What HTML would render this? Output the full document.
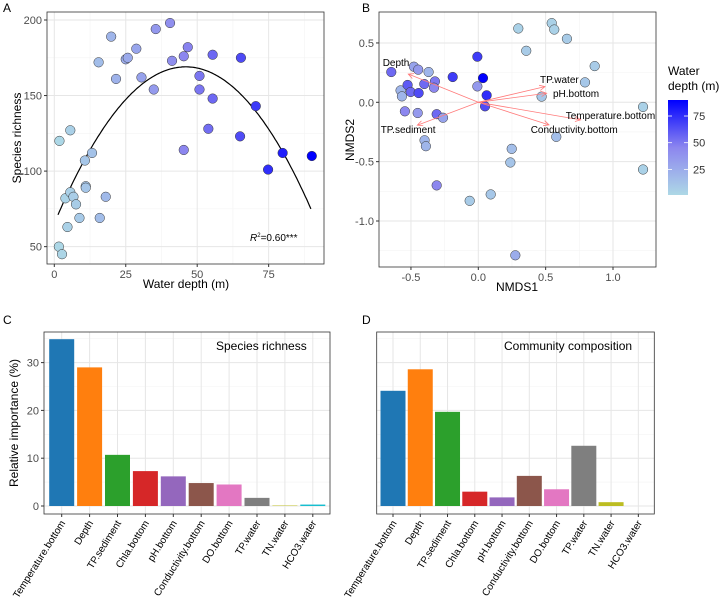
<!DOCTYPE html>
<html><head><meta charset="utf-8"><style>
body{margin:0;background:#fff}
svg{display:block;font-family:"Liberation Sans",Arial,sans-serif}
</style></head><body>
<svg id="fig" width="720" height="597" viewBox="0 0 720 597"></svg>
<script>
// ---- Panel A data ----
const depthA=[1.8,5.6,1.6,2.7,4.6,3.9,5.6,6.7,7.6,8.8,10.7,11,11,13.2,15.9,18,15.5,19.9,21.6,25,25.7,28.7,30.5,34.8,35.5,40.5,41.2,45.3,45.3,46.7,50.8,50.8,53.9,55.4,55.4,65,65.3,70.5,74.8,79.9,90.1];
const richA=[120,127,50,45,63,82,86,83,78,69,107,90,89,112,69,83,172,189,161,174,175,181,162,154,194,198,173,176,114,182,163,154,128,177,148,123,175,143,101,112,110];
const fitPeakX=46, fitPeakY=169, fitCurv=0.049;
// ---- Panel B data ----
const nmds1=[-0.646,-0.478,-0.446,-0.369,-0.577,-0.567,-0.525,-0.502,-0.443,-0.401,-0.322,-0.329,-0.545,-0.45,-0.309,-0.262,-0.399,-0.389,-0.309,-0.19,-0.007,0.035,-0.007,0.062,0.05,-0.064,0.092,0.248,0.238,0.275,0.297,0.356,0.545,0.564,0.658,0.864,0.792,0.47,0.579,1.223,1.223];
const nmds2=[0.255,0.3,0.275,0.255,0.1,0.05,0.146,0.087,0.078,0.154,0.176,0.123,-0.076,-0.09,-0.1,-0.13,-0.32,-0.37,-0.7,0.213,0.384,0.204,0.134,0.059,-0.034,-0.83,-0.776,-0.392,-0.507,-1.289,0.622,0.434,0.667,0.613,0.535,0.305,0.168,0.048,-0.291,-0.039,-0.566];
const depthB=[55,30,35,20,20,20,60,55,65,55,50,45,45,35,55,30,20,20,45,70,70,90,35,75,65,8,10,15,12,25,5,8,5,5,8,8,10,10,15,5,5];
const arrowNames=["Depth","TP.water","pH.bottom","Temperature.bottom","Conductivity.bottom","TP.sediment"];
const arrowX=[-0.52,0.495,0.507,0.76,0.525,-0.453];
const arrowY=[0.238,0.132,0.076,-0.148,-0.19,-0.193];
// ---- Panels C/D data ----
const vars=["Temperature.bottom","Depth","TP.sediment","Chla.bottom","pH.bottom","Conductivity.bottom","DO.bottom","TP.water","TN.water","HCO3.water"];
const richImp=[34.9,29,10.7,7.3,6.2,4.8,4.5,1.7,0.1,0.3];
const compImp=[24.1,28.6,19.7,3.0,1.8,6.3,3.5,12.6,0.8,0];
const barColors=["#1f77b4","#ff7f0e","#2ca02c","#d62728","#9467bd","#8c564b","#e377c2","#7f7f7f","#bcbd22","#17becf"];
const yTicksA=[50,100,150,200], xTicksA=[0,25,50,75];
const xTicksB=[-0.5,0,0.5,1.0], yTicksB=[0.5,0,-0.5,-1.0];
const yTicksC=[0,10,20,30];

const svg=document.getElementById('fig');
const NS='http://www.w3.org/2000/svg';
function mk(tag,attrs,parent,text){const e=document.createElementNS(NS,tag);for(const k in attrs)e.setAttribute(k,attrs[k]);if(text!==undefined)e.textContent=text;(parent||svg).appendChild(e);return e;}
function depthColor(d){const t=Math.max(0,Math.min(1,(d-1)/89));
 const s=[[173,216,230],[140,134,239],[0,0,255]];let a,b,u;
 if(t<0.5){a=s[0];b=s[1];u=t/0.5}else{a=s[1];b=s[2];u=(t-0.5)/0.5}
 return `rgb(${a.map((v,i)=>Math.round(v+(b[i]-v)*u)).join(',')})`;}
function fmt(v){return v===0?"0.0":(Math.abs(v)%1===0&&Math.abs(v)<10&&String(v).indexOf('.')<0?v.toFixed(1):String(v));}

// ===== Panel A =====
const A={l:47,r:324,t:12,b:264};
const axA=x=>54.3+x*2.858, ayA=y=>20+(200-y)*1.511;
const gA=mk('g',{});
mk('text',{x:3,y:12,'font-size':12},gA,'A');
mk('rect',{x:A.l,y:A.t,width:A.r-A.l,height:A.b-A.t,fill:'#fff'},gA);
[12.5,37.5,62.5,87.5].forEach(v=>mk('line',{x1:axA(v),x2:axA(v),y1:A.t,y2:A.b,stroke:'#f3f3f3','stroke-width':0.6},gA));
[75,125,175].forEach(v=>mk('line',{x1:A.l,x2:A.r,y1:ayA(v),y2:ayA(v),stroke:'#f3f3f3','stroke-width':0.6},gA));
xTicksA.forEach(v=>{mk('line',{x1:axA(v),x2:axA(v),y1:A.t,y2:A.b,stroke:'#e6e6e6','stroke-width':1},gA);
 mk('line',{x1:axA(v),x2:axA(v),y1:A.b,y2:A.b+3,stroke:'#333'},gA);
 mk('text',{x:axA(v),y:A.b+14,'font-size':11,fill:'#4d4d4d','text-anchor':'middle'},gA,String(v));});
yTicksA.forEach(v=>{mk('line',{x1:A.l,x2:A.r,y1:ayA(v),y2:ayA(v),stroke:'#e6e6e6','stroke-width':1},gA);
 mk('line',{x1:A.l-3,x2:A.l,y1:ayA(v),y2:ayA(v),stroke:'#333'},gA);
 mk('text',{x:A.l-5,y:ayA(v)+4,'font-size':11,fill:'#4d4d4d','text-anchor':'end'},gA,String(v));});
let pts=[];for(let x=1.3;x<=90.01;x+=0.5){pts.push(axA(x).toFixed(1)+','+ayA(fitPeakY-fitCurv*(x-fitPeakX)**2).toFixed(1));}
const fit=mk('polyline',{points:pts.join(' '),fill:'none',stroke:'#000','stroke-width':1.2},gA);


depthA.forEach((d,i)=>{const c=mk('circle',{cx:axA(d),cy:ayA(richA[i]),r:4.8,fill:depthColor(d),stroke:'#333','stroke-width':0.5},gA);
 
 });
mk('rect',{x:A.l,y:A.t,width:A.r-A.l,height:A.b-A.t,fill:'none',stroke:'#333','stroke-width':0.8},gA);
const r2=mk('text',{x:250,y:241,'font-size':10},gA);
mk('tspan',{'font-style':'italic'},r2,'R');mk('tspan',{'font-size':6,dy:-4},r2,'2');mk('tspan',{dy:4},r2,'=0.60***');
mk('text',{x:186,y:288,'font-size':12,'text-anchor':'middle'},gA,'Water depth (m)');
mk('text',{x:0,y:0,'font-size':12,'text-anchor':'middle',transform:'translate(21,138) rotate(-90)'},gA,'Species richness');

// ===== Panel B =====
const B={l:379,r:656,t:12,b:267};
const axB=x=>478.3+x*134.7, ayB=y=>102.3-y*118.7;
const gB=mk('g',{});
mk('text',{x:362,y:12,'font-size':12},gB,'B');
[-0.25,0.25,0.75].forEach(v=>mk('line',{x1:axB(v),x2:axB(v),y1:B.t,y2:B.b,stroke:'#f3f3f3','stroke-width':0.6},gB));
[0.25,-0.25,-0.75,-1.25].forEach(v=>mk('line',{x1:B.l,x2:B.r,y1:ayB(v),y2:ayB(v),stroke:'#f3f3f3','stroke-width':0.6},gB));
xTicksB.forEach(v=>{mk('line',{x1:axB(v),x2:axB(v),y1:B.t,y2:B.b,stroke:'#e6e6e6'},gB);
 mk('line',{x1:axB(v),x2:axB(v),y1:B.b,y2:B.b+3,stroke:'#333'},gB);
 mk('text',{x:axB(v),y:B.b+14,'font-size':11,fill:'#4d4d4d','text-anchor':'middle'},gB,v.toFixed(1));});
yTicksB.forEach(v=>{mk('line',{x1:B.l,x2:B.r,y1:ayB(v),y2:ayB(v),stroke:'#e6e6e6'},gB);
 mk('line',{x1:B.l-3,x2:B.l,y1:ayB(v),y2:ayB(v),stroke:'#333'},gB);
 mk('text',{x:B.l-5,y:ayB(v)+4,'font-size':11,fill:'#4d4d4d','text-anchor':'end'},gB,v.toFixed(1));});
nmds1.forEach((x,i)=>{const c=mk('circle',{cx:axB(x),cy:ayB(nmds2[i]),r:4.8,fill:depthColor(depthB[i]),stroke:'#333','stroke-width':0.5},gB);
 
 });
const lblPos=[[382.7,66,'start'],[540,83,'start'],[553,97,'start'],[565.7,119,'start'],[530.7,133,'start'],[380.7,133,'start']];
arrowX.forEach((x,i)=>{const x0=axB(0),y0=ayB(0),x1=axB(x),y1=ayB(arrowY[i]);
 const ang=Math.atan2(y1-y0,x1-x0),h=6;
 const a=mk('path',{d:`M${x0},${y0}L${x1},${y1}M${x1-h*Math.cos(ang-0.45)},${y1-h*Math.sin(ang-0.45)}L${x1},${y1}L${x1-h*Math.cos(ang+0.45)},${y1-h*Math.sin(ang+0.45)}`,fill:'none',stroke:'#ff7b7b','stroke-width':0.8},gB);
 
 
 const t=mk('text',{x:lblPos[i][0],y:lblPos[i][1],'font-size':10},gB,arrowNames[i]);
 
 });
mk('rect',{x:B.l,y:B.t,width:B.r-B.l,height:B.b-B.t,fill:'none',stroke:'#333','stroke-width':0.8},gB);
mk('text',{x:517,y:291,'font-size':12,'text-anchor':'middle'},gB,'NMDS1');
mk('text',{x:0,y:0,'font-size':12,'text-anchor':'middle',transform:'translate(354,140) rotate(-90)'},gB,'NMDS2');
// legend
const gL=mk('g',{});
mk('text',{x:668,y:75,'font-size':12},gL,'Water');
mk('text',{x:668,y:90,'font-size':12},gL,'depth (m)');
const defs=mk('defs',{});const lg=mk('linearGradient',{id:'cg',x1:0,y1:1,x2:0,y2:0},defs);
[0,0.25,0.5,0.75,1].forEach(o=>mk('stop',{offset:o,'stop-color':depthColor(1+o*89)},lg));
mk('rect',{x:668,y:100,width:20,height:95,fill:'url(#cg)'},gL);
[25,50,75].forEach(v=>{const y=195-(v-1)/89*95;
 mk('line',{x1:668,x2:672,y1:y,y2:y,stroke:'#fff','stroke-width':0.8},gL);mk('line',{x1:684,x2:688,y1:y,y2:y,stroke:'#fff','stroke-width':0.8},gL);
 mk('text',{x:693,y:y+4,'font-size':11,fill:'#333'},gL,String(v));});

// ===== Panels C & D =====
function barPanel(name,letter,lx,L,R,c0,step,vals,title,titleX,showY){
 const T=332,Bt=514, ay=v=>506-v*4.78, ax=i=>c0+i*step;
 const g=mk('g',{});
 mk('text',{x:lx,y:324,'font-size':12},g,letter);
 [5,15,25,35].forEach(v=>mk('line',{x1:L,x2:R,y1:ay(v),y2:ay(v),stroke:'#f3f3f3','stroke-width':0.6},g));
 yTicksC.forEach(v=>{mk('line',{x1:L,x2:R,y1:ay(v),y2:ay(v),stroke:'#e6e6e6'},g);
  if(showY){mk('line',{x1:L-3,x2:L,y1:ay(v),y2:ay(v),stroke:'#333'},g);
  mk('text',{x:L-5,y:ay(v)+4,'font-size':11,fill:'#4d4d4d','text-anchor':'end'},g,String(v));}});
 vars.forEach((n,i)=>{mk('line',{x1:ax(i),x2:ax(i),y1:T,y2:Bt,stroke:'#e6e6e6'},g);
  mk('line',{x1:ax(i),x2:ax(i),y1:Bt,y2:Bt+3,stroke:'#333'},g);
  const t=mk('text',{x:0,y:0,'font-size':10,'text-anchor':'end',transform:`translate(${ax(i)+4},${Bt+9}) rotate(-58)`},g,n);
  
  
  const h=Math.max(vals[i]*4.78,0);
  const b=mk('rect',{x:ax(i)-12.5,y:ay(vals[i]),width:25,height:h,fill:barColors[i]},g);
  
  });
 mk('rect',{x:L,y:T,width:R-L,height:Bt-T,fill:'none',stroke:'#333','stroke-width':0.8},g);
 mk('text',{x:titleX,y:350,'font-size':12},g,title);
}
barPanel('panel-c','C',3,44,330,61.7,27.9,richImp,'Species richness',216,true);
barPanel('panel-d','D',362,376.7,654.3,393,27.26,compImp,'Community composition',504,false);
mk('text',{x:0,y:0,'font-size':12,'text-anchor':'middle',transform:'translate(18,423) rotate(-90)'},svg,'Relative importance (%)');
</script>
</body></html>
